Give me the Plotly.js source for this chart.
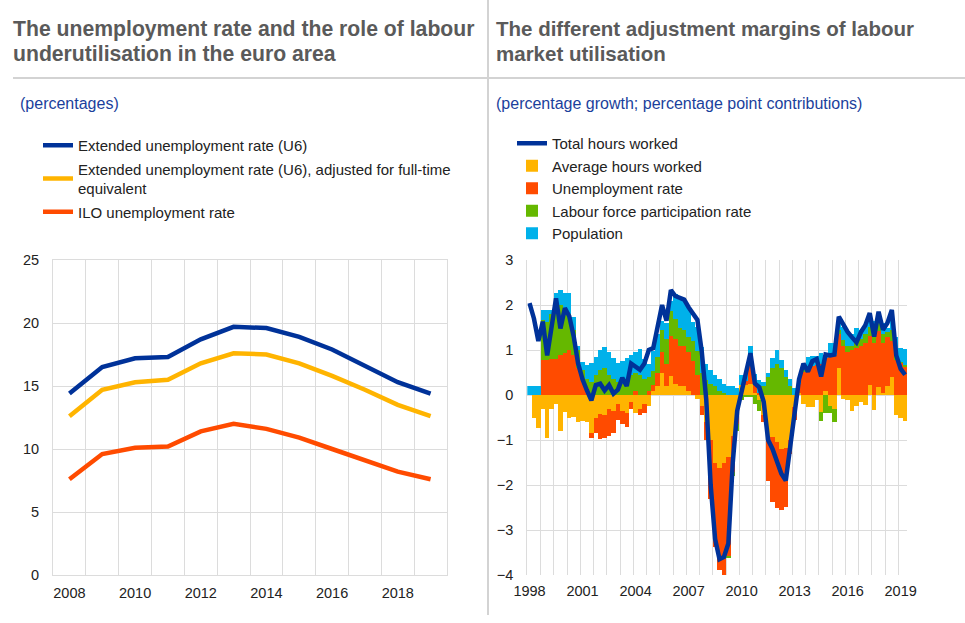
<!DOCTYPE html>
<html><head><meta charset="utf-8">
<script src="https://cdn.plot.ly/plotly-3.0.1.min.js"></script>
<style>html,body{margin:0;padding:0;background:#fff;} #chart{width:965px;height:623px;}</style>
</head><body><div id="chart"></div>
<script>
// ---- Left panel data (annual, percentages) ----
const years = [2008, 2009, 2010, 2011, 2012, 2013, 2014, 2015, 2016, 2017, 2018, 2019];
const u6 = [14.4, 16.5, 17.2, 17.3, 18.7, 19.7, 19.6, 18.9, 17.9, 16.6, 15.3, 14.4];
const u6Fte = [12.6, 14.7, 15.3, 15.5, 16.8, 17.6, 17.5, 16.8, 15.8, 14.7, 13.5, 12.6];
const ilo = [7.6, 9.6, 10.1, 10.2, 11.4, 12.0, 11.6, 10.9, 10.0, 9.1, 8.2, 7.6];
const yearTicks = [2008, 2010, 2012, 2014, 2016, 2018];

// ---- Right panel data (quarterly) ----
const quarters = [
 "1998Q1","1998Q2","1998Q3","1998Q4","1999Q1","1999Q2","1999Q3","1999Q4",
 "2000Q1","2000Q2","2000Q3","2000Q4","2001Q1","2001Q2","2001Q3","2001Q4",
 "2002Q1","2002Q2","2002Q3","2002Q4","2003Q1","2003Q2","2003Q3","2003Q4",
 "2004Q1","2004Q2","2004Q3","2004Q4","2005Q1","2005Q2","2005Q3","2005Q4",
 "2006Q1","2006Q2","2006Q3","2006Q4","2007Q1","2007Q2","2007Q3","2007Q4",
 "2008Q1","2008Q2","2008Q3","2008Q4","2009Q1","2009Q2","2009Q3","2009Q4",
 "2010Q1","2010Q2","2010Q3","2010Q4","2011Q1","2011Q2","2011Q3","2011Q4",
 "2012Q1","2012Q2","2012Q3","2012Q4","2013Q1","2013Q2","2013Q3","2013Q4",
 "2014Q1","2014Q2","2014Q3","2014Q4","2015Q1","2015Q2","2015Q3","2015Q4",
 "2016Q1","2016Q2","2016Q3","2016Q4","2017Q1","2017Q2","2017Q3","2017Q4",
 "2018Q1","2018Q2","2018Q3","2018Q4","2019Q1","2019Q2"];
const totalHours = [
 2.04, 1.70, 1.20, 1.63,  0.88, 1.60, 2.15, 1.48,  1.93, 1.75, 1.30, 0.70,
 0.35, 0.10, -0.12, 0.22,  0.25, 0.10, 0.22, 0.03,  0.12, 0.38, 0.20, 0.70,
 0.62, 0.56, 0.70, 1.00,  1.04, 1.50, 2.00, 1.65,  2.33, 2.20, 2.17, 2.12,
 1.95, 1.80, 1.67, 0.95,  -0.10, -2.00, -3.20, -3.65,  -3.60, -3.30, -1.50, -0.35,
 0.10, 0.45, 0.93, 0.26,  0.17, -0.15, -1.00, -1.20,  -1.50, -1.75, -1.90, -1.15,
 -0.50, 0.35, 0.70, 0.52,  0.75, 0.80, 0.41, 0.90,  0.88, 0.90, 1.74, 1.55,
 1.40, 1.28, 1.17, 1.40,  1.55, 1.82, 1.30, 1.85,  1.45, 1.60, 1.89, 0.88,
 0.58, 0.45];
const avgHours = [
 0, -0.50, -0.74, -0.32,  -0.96, -0.30, -0.20, -0.80,  -0.38, -0.52, -0.48, -0.60,
 -0.58, -0.60, -0.85, -0.50,  -0.42, -0.45, -0.30, -0.35,  -0.20, -0.35, -0.40, -0.15,
 -0.40, -0.30, -0.20, -0.25,  0.08, 0.20, 0.50, 0.20,  0.42, 0.25, 0.20, 0.20,
 0.10, 0, -0.08, -0.25,  -0.60, -1.00, -1.52, -1.63,  -1.50, -1.38, -0.90, -0.35,
 0.22, 0.22, 0.25, 0.05,  -0.10, -0.45, -0.95, -0.93,  -1.05, -1.20, -1.18, -1.00,
 -0.26, 0.05, -0.20, -0.26,  -0.26, -0.10, -0.37, 0.08,  -0.25, -0.30, 0.60, -0.08,
 -0.10, -0.35, -0.25, -0.15,  -0.22, 0.22, -0.33, 0.18,  0.05, 0.20, 0.40, -0.45,
 -0.52, -0.58];
const unemp = [
 0, 0, 0, 0.78,  0.78, 0.80, 0.81, 0.88,  0.93, 1.00, 0.90, 0.60,
 0.35, 0.15, -0.10, -0.35,  -0.55, -0.50, -0.60, -0.50,  -0.35, -0.30, -0.30, -0.15,
 0.10, -0.15, -0.20, 0.10,  0.15, 0.30, 0.45, 0.50,  0.90, 1.00, 0.90, 0.90,
 0.85, 0.75, 0.45, -0.20,  -0.40, -1.30, -1.85, -2.25,  -2.50, -2.20, -0.80, -0.30,
 0, 0.10, 0.45, 0.20,  0.05, -0.15, -0.95, -1.45,  -1.45, -1.35, -1.30, -0.30,
 -0.30, 0.20, 0.52, 0.55,  0.65, 0.67, 0.70, 0.75,  0.85, 0.90, 0.75, 1.10,
 0.95, 1.00, 1.05, 1.10,  1.15, 1.10, 1.15, 1.25,  1.10, 1.10, 0.80, 0.78,
 0.72, 0.62];
const participation = [
 0, 0, 0, 0.89,  0.85, 1.00, 1.23, 1.12,  0.92, 0.80, 0.54, 0.40,
 0.21, 0.20, 0.30, 0.45,  0.55, 0.60, 0.45, 0.35,  0.30, 0.25, 0.35, 0.45,
 0.40, 0.45, 0.35, 0.30,  0.30, 0.35, 0.50, 0.55,  0.55, 0.45, 0.40, 0.35,
 0.35, 0.45, 0.52, 0.48,  0.33, 0.25, 0.20, 0.10,  0.05, -0.05, -0.10, -0.15,
 -0.12, -0.05, -0.05, -0.19,  -0.26, 0.20, 0.40, 0.60,  0.70, 0.60, 0.40, 0.20,
 0, 0, 0.05, 0,  0, 0, -0.20, -0.40,  -0.15, -0.30, 0.10, 0.12,
 0.15, 0.10, 0.15, 0.15,  0.20, 0.20, 0.25, 0.20,  0.20, 0.10, 0.25, 0.10,
 0.02, 0.05];
const population = [
 0.20, 0.20, 0.20, 0.22,  0.26, 0.10, 0.22, 0.33,  0.41, 0.46, 0.30, 0.10,
 0.18, 0.32, 0.42, 0.40,  0.45, 0.47, 0.50, 0.47,  0.42, 0.50, 0.47, 0.45,
 0.45, 0.57, 0.45, 0.30,  0.45, 0.50, 0.20, 0.35,  0.22, 0.55, 0.65, 0.70,
 0.65, 0.43, 0.55, 0.59,  0.37, 0.30, 0.25, 0.25,  0.20, 0.20, 0.20, 0.15,
 0.22, 0.22, 0.40, 0.21,  0.28, 0.10, 0.10, 0.22,  0.30, 0.18, 0.15, 0.15,
 0.15, 0.12, 0.12, 0.30,  0.22, 0.20, 0.23, 0.05,  0.30, 0.25, 0.28, 0.30,
 0.30, 0.25, 0.30, 0.20,  0.20, 0.20, 0.25, 0.15,  0.25, 0.10, 0.25, 0.40,
 0.30, 0.35];
const quarterTickYears = [1998, 2001, 2004, 2007, 2010, 2013, 2016, 2019];

// position of each quarter on a numeric year axis
const xq = quarters.map(q => Number(q.slice(0, 4)) + (Number(q.slice(5)) - 1) / 4);

const C = {blue:'#003299', yellow:'#FFB400', orange:'#FF4B00', green:'#65B800', sky:'#00B1EA'};
const W = 965, H = 623;
const px = v => v / W, py = v => 1 - v / H;

const traces = [
  {x: years, y: u6, type:'scatter', mode:'lines', name:'Extended unemployment rate (U6)',
   line:{color:C.blue, width:4.5}, xaxis:'x', yaxis:'y', legend:'legend', legendgroup:'a'},
  {x: years, y: u6Fte, type:'scatter', mode:'lines', name:'Extended unemployment rate (U6), adjusted for full-time<br>equivalent',
   line:{color:C.yellow, width:4.5}, xaxis:'x', yaxis:'y', legend:'legend', legendgroup:'b'},
  {x: years, y: ilo, type:'scatter', mode:'lines', name:'ILO unemployment rate',
   line:{color:C.orange, width:4.5}, xaxis:'x', yaxis:'y', legend:'legend', legendgroup:'c'},

  {x: xq, y: avgHours, type:'bar', name:'Average hours worked', marker:{color:C.yellow, line:{width:0}},
   width:0.25, xaxis:'x2', yaxis:'y2', legend:'legend2', legendrank:2},
  {x: xq, y: unemp, type:'bar', name:'Unemployment rate', marker:{color:C.orange, line:{width:0}},
   width:0.25, xaxis:'x2', yaxis:'y2', legend:'legend2', legendrank:3},
  {x: xq, y: participation, type:'bar', name:'Labour force participation rate', marker:{color:C.green, line:{width:0}},
   width:0.25, xaxis:'x2', yaxis:'y2', legend:'legend2', legendrank:4},
  {x: xq, y: population, type:'bar', name:'Population', marker:{color:C.sky, line:{width:0}},
   width:0.25, xaxis:'x2', yaxis:'y2', legend:'legend2', legendrank:5},
  {x: xq, y: totalHours, type:'scatter', mode:'lines', name:'Total hours worked',
   line:{color:C.blue, width:4.5}, xaxis:'x2', yaxis:'y2', legend:'legend2', legendrank:1}
];

const grid = '#dcdcdc';
const fam = 'Liberation Sans, Arial, sans-serif';
const tickFont = {family:fam, size:14.5, color:'#222'};
const legFont = {family:fam, size:15, color:'#222'};
const titleFontL = {family:fam, size:21.2, color:'#5a5a5a'};
const titleFontR = {family:fam, size:20.5, color:'#5a5a5a'};
const subFont = {family:fam, size:16, color:'#1b3f9c'};

function note(x, y, text, font) {
  return {xref:'paper', yref:'paper', x:px(x), y:py(y), xanchor:'left', yanchor:'middle',
          align:'left', showarrow:false, text:text, font:font};
}

const layout = {
  width: W, height: H, margin:{l:0, r:0, t:0, b:0},
  paper_bgcolor:'#fff', plot_bgcolor:'#fff',
  showlegend:true, barmode:'relative', bargap:0,
  font:{family:fam, color:'#222'},
  xaxis:{domain:[px(53), px(447)], range:[2007.5, 2019.5], tickmode:'array',
    tickvals: yearTicks, ticktext: yearTicks.map(String), showgrid:false, zeroline:false,
    minor:{tick0:2007.5, dtick:1, showgrid:true, gridcolor:grid, gridwidth:1, ticks:''},
    showline:true, mirror:true, linecolor:grid, linewidth:1, ticks:'', tickfont:tickFont,
    ticklabelstandoff:5, fixedrange:true},
  yaxis:{domain:[1-575/H, 1-260/H], range:[0, 25], dtick:5, tick0:0, gridcolor:grid, gridwidth:1,
    zeroline:false, showline:true, mirror:true, linecolor:grid, linewidth:1, ticks:'',
    tickfont:tickFont, ticklabelstandoff:10, fixedrange:true},
  xaxis2:{domain:[px(527.3), px(907.3)], range:[1997.875, 2019.375], anchor:'y2', tickmode:'array',
    tickvals: quarterTickYears, ticktext: quarterTickYears.map(String), showgrid:false, zeroline:false,
    minor:{tick0:1997.875, dtick:0.75, showgrid:true, gridcolor:grid, gridwidth:1, ticks:''},
    ticks:'', tickfont:tickFont, ticklabelstandoff:5, fixedrange:true},
  yaxis2:{domain:[1-575/H, 1-260/H], range:[-4, 3], dtick:1, tick0:0, anchor:'x2', gridcolor:grid, gridwidth:1,
    zeroline:false, showline:true, linecolor:grid, linewidth:1, ticks:'',
    tickfont:tickFont, ticklabelstandoff:10, fixedrange:true},
  legend:{x:px(38), y:py(129), xanchor:'left', yanchor:'top', font:legFont, bgcolor:'rgba(0,0,0,0)',
    traceorder:'grouped', tracegroupgap:1, itemclick:false, itemdoubleclick:false},
  legend2:{x:px(512), y:py(127), xanchor:'left', yanchor:'top', font:legFont, bgcolor:'rgba(0,0,0,0)',
    traceorder:'normal', itemclick:false, itemdoubleclick:false},
  shapes:[
    {type:'line', xref:'paper', yref:'paper', x0:px(488), x1:px(488), y0:py(615), y1:1, line:{color:'#d3d3d3', width:2}},
    {type:'line', xref:'paper', yref:'paper', x0:px(13), x1:1, y0:py(78), y1:py(78), line:{color:'#d3d3d3', width:2}}
  ],
  annotations:[
    note(11, 29, '<b>The unemployment rate and the role of labour</b>', titleFontL),
    note(11, 53, '<b>underutilisation in the euro area</b>', titleFontL),
    note(494, 29, '<b>The different adjustment margins of labour</b>', titleFontR),
    note(494, 53, '<b>market utilisation</b>', titleFontR),
    note(18, 103, '(percentages)', subFont),
    note(494, 103, '(percentage growth; percentage point contributions)', subFont)
  ]
};

Plotly.newPlot('chart', traces, layout, {displayModeBar:false, staticPlot:true});
</script>
</body></html>
